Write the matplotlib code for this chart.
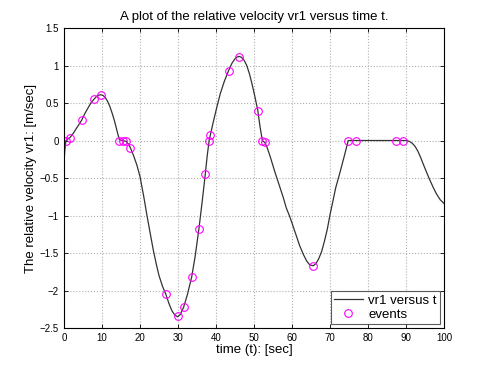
import matplotlib
matplotlib.use("Agg")
import matplotlib.pyplot as plt

plt.rcParams["font.family"] = ["Liberation Sans", "DejaVu Sans"]

# curve samples
t = [0, 0.25, 0.5, 1, 1.6, 2.5, 3.5, 4.65, 5.5, 6.5, 7.2, 7.9, 8.6, 9.2, 9.7,
     10.3, 10.9, 11.5, 12.1, 12.7, 13.3, 13.8, 14.2, 14.6, 15.4, 16.3, 17,
     17.5, 18.3, 19.2, 20, 21, 21.8, 22.7, 23.5, 24.3, 25, 25.9, 26.8, 27.6,
     28.4, 29.2, 29.9, 30.6, 31.5, 32.5, 33.6, 34.5, 35.5, 36.4, 37.2, 37.7,
     38.2, 38.5, 39.3, 40.2, 41.1, 42.2, 43.3, 44.2, 45, 45.6, 46.1, 46.7,
     47.4, 48.1, 48.8, 49.5, 50.3, 51, 51.6, 52.2, 52.9, 53.5, 54.3, 55.5,
     56.8, 57.7, 58.5, 59.3, 60, 61, 62, 63, 63.9, 64.7, 65.6, 66.3, 67, 67.8,
     68.5, 69.3, 70, 70.8, 71.5, 72.6, 73.8, 74.8, 80, 85, 90, 90.5, 91, 91.7,
     92.4, 93.1, 93.8, 94.5, 95.3, 96.3, 97.2, 98, 99, 100]
vr1 = [-0.27, -0.12, 0.0, 0.02, 0.04, 0.1, 0.18, 0.27, 0.36, 0.45, 0.51, 0.55,
       0.59, 0.605, 0.61, 0.6, 0.57, 0.52, 0.45, 0.36, 0.26, 0.16, 0.08, 0.01,
       0.0, -0.01, -0.05, -0.1, -0.2, -0.33, -0.48, -0.75, -0.99, -1.24, -1.46,
       -1.65, -1.8, -1.94, -2.05, -2.17, -2.27, -2.33, -2.35, -2.32, -2.22,
       -2.05, -1.82, -1.55, -1.18, -0.8, -0.44, -0.2, 0.0, 0.07, 0.25, 0.44,
       0.62, 0.79, 0.93, 1.03, 1.09, 1.115, 1.12, 1.11, 1.07, 1.0, 0.89, 0.75,
       0.57, 0.4, 0.18, 0.0, -0.03, -0.1, -0.22, -0.42, -0.62, -0.76, -0.9,
       -1.0, -1.1, -1.25, -1.4, -1.52, -1.61, -1.66, -1.67, -1.64, -1.58, -1.48,
       -1.35, -1.18, -0.99, -0.8, -0.63, -0.43, -0.2, 0.0, 0.0, 0.0, 0.0,
       -0.005, -0.015, -0.04, -0.08, -0.14, -0.22, -0.31, -0.41, -0.53, -0.63,
       -0.71, -0.79, -0.84]

# event markers
t_ev = [0.5, 1.6, 4.65, 7.9, 9.7, 14.6, 15.4, 16.3, 17.5, 26.8, 29.9, 31.5,
        33.6, 35.5, 37.2, 38.2, 38.5, 43.3, 46.1, 51.0, 52.2, 52.9, 65.6,
        74.8, 76.8, 87.3, 89.1]
v_ev = [0.0, 0.04, 0.27, 0.55, 0.61, 0.0, 0.0, -0.01, -0.1, -2.05, -2.34,
        -2.22, -1.82, -1.18, -0.44, 0.0, 0.07, 0.93, 1.12, 0.4, 0.0, -0.02,
        -1.67, 0.0, 0.0, 0.0, 0.0]

fig = plt.figure(figsize=(4.91, 3.69), dpi=100)
ax = fig.add_axes([0.1303, 0.1111, 0.774, 0.813])

ax.plot(t, vr1, color="#333333", lw=0.9, label="vr1 versus t")
ax.plot(t_ev, v_ev, "o", mfc="none", mec="#ff00ff", ms=5.5, mew=0.8,
        label="events")

ax.set_xlim(0, 100)
ax.set_ylim(-2.5, 1.5)
ax.set_xticks(range(0, 101, 10))
ax.set_yticks([-2.5, -2, -1.5, -1, -0.5, 0, 0.5, 1, 1.5])
ax.set_yticklabels(["\u22122.5", "\u22122", "\u22121.5", "\u22121", "\u22120.5",
                    "0", "0.5", "1", "1.5"])
ax.grid(True, linestyle=":", color="#b0b0b0", lw=0.8)
ax.tick_params(direction="in", top=True, right=True, labelsize=7, length=3,
               width=0.6)
for s in ax.spines.values():
    s.set_linewidth(0.8)

ax.set_title("A plot of the relative velocity vr1 versus time t.", fontsize=9.5)
ax.set_xlabel("time (t): [sec]", fontsize=9.5, labelpad=1)
ax.set_ylabel("The relative velocity vr1: [m/sec]", fontsize=9.5)
ax.yaxis.set_label_coords(-0.072, 0.5)

leg = ax.legend(loc="lower right", fontsize=9.5, fancybox=False,
                edgecolor="#333333", borderaxespad=0.3, handlelength=2.2,
                borderpad=0.25, labelspacing=0.15, handletextpad=0.4)
leg.get_frame().set_linewidth(0.8)

fig.savefig("out.png", dpi=100)
